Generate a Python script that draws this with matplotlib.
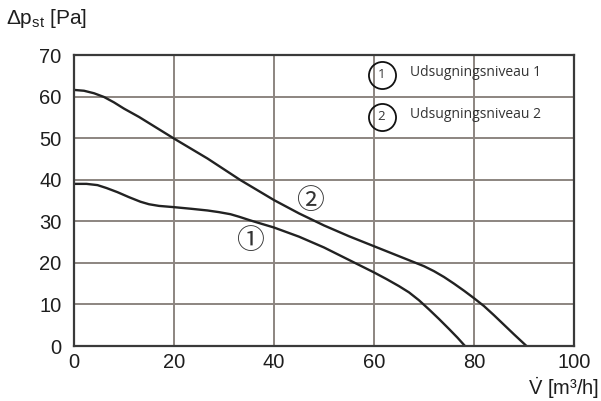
import matplotlib
matplotlib.use("Agg")
import matplotlib.pyplot as plt

flow_1 = [0, 2.5, 4.7, 6.5, 8.7, 11, 13.3, 15, 17, 20, 23.5, 26.7, 29, 31.3, 33, 35.3, 37.5,
          40, 45, 50, 55, 60, 62.5, 65, 67, 69, 71, 73, 75, 76.7, 78.2]
pres_1 = [39.0, 39.0, 38.7, 38.0, 37.0, 35.8, 34.7, 34.1, 33.7, 33.4, 33.0, 32.6, 32.2, 31.7,
          31.1, 30.2, 29.4, 28.5, 26.3, 23.7, 20.7, 17.7, 16.1, 14.4, 12.9, 11.0, 8.8, 6.5,
          4.1, 2.0, 0]

flow_2 = [0, 2, 4, 6, 8, 10, 13, 16.5, 20, 26.7, 33.3, 40, 45, 50, 55, 60, 65, 70, 72, 74,
          76, 78, 80, 82, 84, 86, 88, 90.5]
pres_2 = [61.6, 61.4, 60.8, 59.9, 58.6, 57.1, 55.1, 52.5, 49.9, 45.1, 39.9, 35.1, 31.9, 29.0,
          26.4, 24.0, 21.6, 19.2, 18.0, 16.6, 15.0, 13.3, 11.5, 9.6, 7.4, 5.1, 2.8, 0]

x_ticks = [0, 20, 40, 60, 80, 100]
y_ticks = [0, 10, 20, 30, 40, 50, 60, 70]
legend_labels = ["Udsugningsniveau 1", "Udsugningsniveau 2"]
legend_nums = ["1", "2"]
curve_marks = ["\u2460", "\u2461"]

plt.rcParams['font.family'] = ['Liberation Sans', 'DejaVu Sans']
plt.rcParams['mathtext.fontset'] = 'custom'
plt.rcParams['mathtext.rm'] = 'Liberation Sans'

fig = plt.figure(figsize=(6.01, 4.01), dpi=100)
ax = fig.add_axes([74 / 601, 55 / 401, 500 / 601, 291 / 401])

grid_col = "#8c8580"
ax.set_xlim(0, 100)
ax.set_ylim(0, 70)
ax.set_xticks(x_ticks)
ax.set_yticks(y_ticks)
ax.grid(True, color=grid_col, linewidth=1.4)
ax.set_axisbelow(True)
ax.tick_params(length=0, labelsize=14.5, colors="#1e1e1e")
ax.tick_params(axis="y", pad=9)
ax.tick_params(axis="x", pad=5)
for s in ax.spines.values():
    s.set_color("#3a3a3a")
    s.set_linewidth(1.6)

ax.plot(flow_1, pres_1, color="#222222", linewidth=1.7)
ax.plot(flow_2, pres_2, color="#222222", linewidth=1.7)

# circled curve numbers
cjk = ['Noto Sans CJK JP', 'DejaVu Sans']
ax.text(35.2, 25.3, curve_marks[0], fontsize=20, family=cjk, ha="center", va="center", color="#333333")
ax.text(47.2, 35.0, curve_marks[1], fontsize=20, family=cjk, ha="center", va="center", color="#333333")

# legend inside the plot
leg_y = [65.2, 55.2]
for i in range(2):
    ax.plot(61.5, leg_y[i], marker="o", markersize=19.5, mfc="none", mec="#111111", mew=1.3,
            clip_on=False)
    ax.text(61.5, leg_y[i], legend_nums[i], fontsize=9.5, family=['Open Sans', 'DejaVu Sans'],
            ha="center", va="center", color="#333333")
    ax.text(67.2, leg_y[i] + 0.6, legend_labels[i], fontsize=10, family=['Open Sans', 'DejaVu Sans'],
            ha="left", va="center", color="#333333")

fig.text(6 / 601, 1 - 18 / 401, r"$\Delta$p$_{\rm st}$ [Pa]", fontsize=15, color="#1e1e1e",
         ha="left", va="center")
fig.text(599 / 601, 1 - 388 / 401, r"$\dot{\rm V}$ [m³/h]", fontsize=14.5, color="#1e1e1e",
         ha="right", va="center")

fig.savefig("out.png", dpi=100)
